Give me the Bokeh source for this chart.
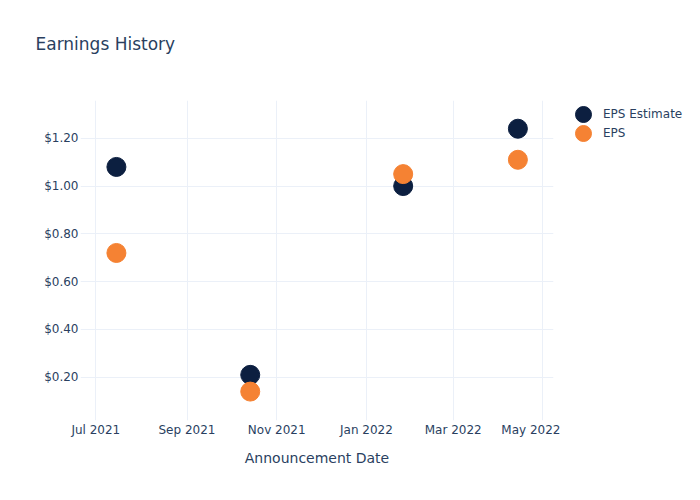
from datetime import datetime
from bokeh.plotting import figure
from bokeh.layouts import row
from bokeh.models import (ColumnDataSource, Range1d, FixedTicker, NumeralTickFormatter,
                          DatetimeTickFormatter, Legend, LegendItem, Title)
from bokeh.embed import file_html
from bokeh.resources import INLINE

dates = [datetime(2021, 7, 15), datetime(2021, 10, 14), datetime(2022, 1, 26), datetime(2022, 4, 14)]
eps_estimate = [1.08, 0.21, 1.00, 1.24]
eps_actual = [0.72, 0.14, 1.05, 1.11]
x_ticks = [datetime(2021, 7, 1), datetime(2021, 9, 1), datetime(2021, 11, 1),
           datetime(2022, 1, 1), datetime(2022, 3, 1), datetime(2022, 5, 1)]
y_ticks = [0.2, 0.4, 0.6, 0.8, 1.0, 1.2]
series_names = ["EPS Estimate", "EPS"]
series_colors = ["#0c1f40", "#f58233"]

FONT = "DejaVu Sans"
TXT = "#2a3f5f"
GRID = "#ebf0f8"

src = ColumnDataSource(dict(date=dates, est=eps_estimate, eps=eps_actual))

p = figure(width=560, height=484, output_backend="svg", toolbar_location=None,
           x_axis_type="datetime", title=None,
           x_range=Range1d(datetime(2021, 6, 20, 14), datetime(2022, 5, 8, 5)),
           y_range=Range1d(0.019, 1.358),
           min_border_left=80, min_border_right=7, min_border_top=100, min_border_bottom=64)

# spacer (closest to the frame) then the real title further out
p.add_layout(Title(text=" ", text_font_size="10px", standoff=34, text_color="white"), "above")
p.add_layout(Title(text="Earnings History", text_font=FONT, text_font_size="17px",
                   text_font_style="normal", text_color=TXT, offset=-45, standoff=0), "above")

p.outline_line_color = None
p.background_fill_color = "white"
p.border_fill_color = "white"

for ax in (p.xaxis[0], p.yaxis[0]):
    ax.axis_line_color = None
    ax.major_tick_line_color = None
    ax.minor_tick_line_color = None
    ax.major_tick_out = 0
    ax.major_tick_in = 0
    ax.minor_tick_out = 0
    ax.minor_tick_in = 0
    ax.major_label_text_font = FONT
    ax.major_label_text_font_size = "12px"
    ax.major_label_text_color = TXT

p.xaxis.ticker = FixedTicker(ticks=[d.timestamp() * 1000 for d in x_ticks])
p.xaxis.formatter = DatetimeTickFormatter(days="%b %Y", months="%b %Y", years="%b %Y")
p.xaxis.major_label_standoff = 2
p.xaxis.axis_label = "Announcement Date"
p.xaxis.axis_label_text_font = FONT
p.xaxis.axis_label_text_font_size = "14px"
p.xaxis.axis_label_text_font_style = "normal"
p.xaxis.axis_label_text_color = TXT
p.xaxis.axis_label_standoff = 10

p.yaxis.ticker = FixedTicker(ticks=y_ticks)
p.yaxis.formatter = NumeralTickFormatter(format="$0.00")
p.yaxis.major_label_standoff = 2

p.xgrid.grid_line_color = GRID
p.ygrid.grid_line_color = GRID
p.xgrid.grid_line_width = 1
p.ygrid.grid_line_width = 1

p.scatter("date", "est", source=src, size=19, fill_color=series_colors[0], line_color=series_colors[0])
p.scatter("date", "eps", source=src, size=19, fill_color=series_colors[1], line_color=series_colors[1])

# legend panel to the right of the plot (its frame is aligned with the main frame)
pl = figure(width=124, height=484, output_backend="svg", toolbar_location=None,
            x_axis_location=None, y_axis_location=None, title=None,
            x_range=Range1d(0, 1), y_range=Range1d(0, 1),
            min_border_left=0, min_border_right=0, min_border_top=0, min_border_bottom=0)
pl.outline_line_color = None
pl.grid.visible = False
legend_y = [286, 267]
for name, col, ly in zip(series_names, series_colors, legend_y):
    r = pl.scatter(x=[float("nan")], y=[float("nan")], size=19, fill_color=col, line_color=col)
    lg = Legend(items=[LegendItem(label=name, renderers=[r])], location=(3, ly))
    lg.border_line_color = None
    lg.background_fill_alpha = 0
    lg.padding = 0
    lg.margin = 0
    lg.spacing = 0
    lg.glyph_width = 40
    lg.glyph_height = 40
    lg.label_height = 40
    lg.label_standoff = 0
    lg.label_text_font = FONT
    lg.label_text_font_size = "12px"
    lg.label_text_color = TXT
    pl.add_layout(lg, "center")

layout = row(p, pl)
open("out.html", "w").write(file_html(layout, INLINE))
